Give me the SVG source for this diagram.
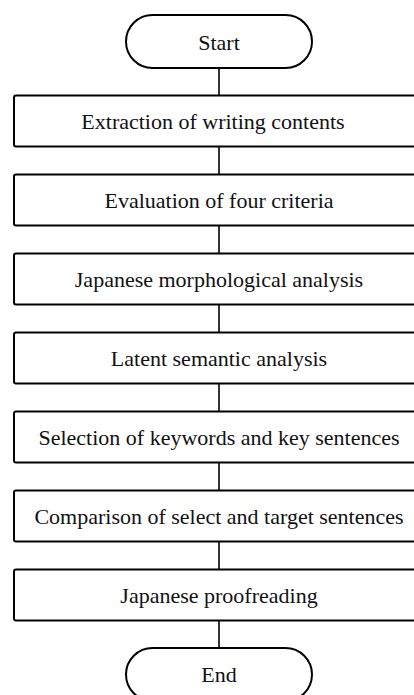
<svg xmlns="http://www.w3.org/2000/svg" width="414" height="695" viewBox="0 0 414 695">
<style>
.box{fill:#fff;stroke:#000;stroke-width:2}
.term{fill:#fff;stroke:#000;stroke-width:2}
.lbl{font-size:22px;fill:#111;text-anchor:middle}
.conn line{stroke:#000;stroke-width:1.6}
</style>
<rect width="414" height="695" fill="#fff"/>
<g class="conn" id="connectors">
<line x1="219" y1="68" x2="219" y2="95.5"/>
<line x1="219" y1="146.5" x2="219" y2="174.5"/>
<line x1="219" y1="225.5" x2="219" y2="253.5"/>
<line x1="219" y1="304.5" x2="219" y2="332.5"/>
<line x1="219" y1="383.5" x2="219" y2="411.5"/>
<line x1="219" y1="462.5" x2="219" y2="490.5"/>
<line x1="219" y1="541.5" x2="219" y2="569.5"/>
<line x1="219" y1="620.5" x2="219" y2="648"/>
</g>
<g font-family="Liberation Serif, Times New Roman, DejaVu Serif, serif">
<g id="start"><rect class="term" x="126" y="15" width="186" height="53" rx="26.5"/><text class="lbl" x="219" y="49.5">Start</text></g>
<g id="n1"><rect class="box" x="14" y="95.5" width="410" height="51" rx="2"/><text class="lbl" x="213" y="128.5">Extraction of writing contents</text></g>
<g id="n2"><rect class="box" x="14" y="174.5" width="410" height="51" rx="2"/><text class="lbl" x="219" y="207.5">Evaluation of four criteria</text></g>
<g id="n3"><rect class="box" x="14" y="253.5" width="410" height="51" rx="2"/><text class="lbl" x="219" y="286.5">Japanese morphological analysis</text></g>
<g id="n4"><rect class="box" x="14" y="332.5" width="410" height="51" rx="2"/><text class="lbl" x="219" y="365.5">Latent semantic analysis</text></g>
<g id="n5"><rect class="box" x="14" y="411.5" width="410" height="51" rx="2"/><text class="lbl" x="219" y="444.5">Selection of keywords and key sentences</text></g>
<g id="n6"><rect class="box" x="14" y="490.5" width="410" height="51" rx="2"/><text class="lbl" x="219" y="523.5">Comparison of select and target sentences</text></g>
<g id="n7"><rect class="box" x="14" y="569.5" width="410" height="51" rx="2"/><text class="lbl" x="219" y="602.5">Japanese proofreading</text></g>
<g id="end"><rect class="term" x="126" y="648" width="186" height="53" rx="26.5"/><text class="lbl" x="219" y="682">End</text></g>
</g>
</svg>
